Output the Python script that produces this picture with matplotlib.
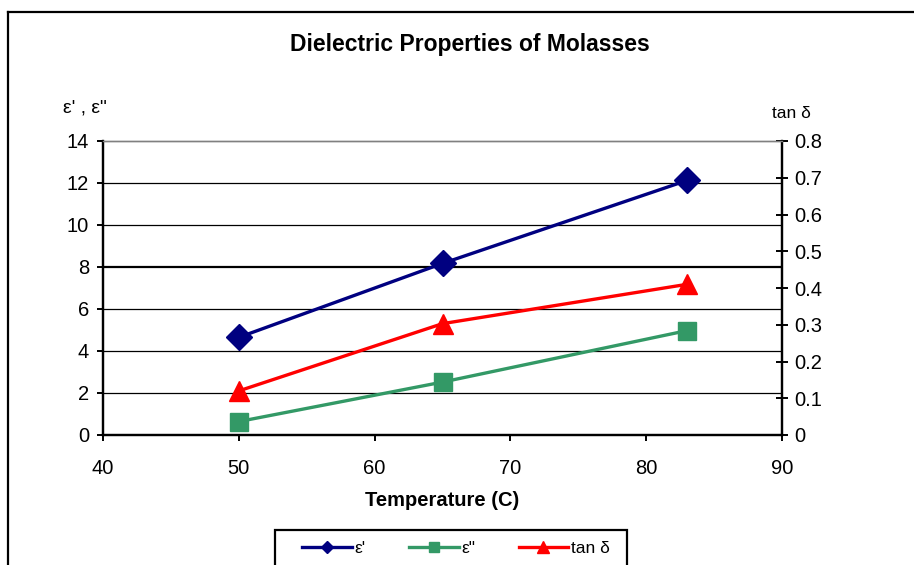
import matplotlib
matplotlib.use("Agg")
import matplotlib.pyplot as plt
from matplotlib.patches import Rectangle
from matplotlib.lines import Line2D

plt.rcParams['font.family'] = ['Liberation Sans', 'DejaVu Sans']

temperature = [50, 65, 83]
eps_real = [4.65, 8.17, 12.12]
eps_imag = [0.64, 2.52, 4.97]
tan_delta = [0.12, 0.303, 0.41]

x_ticks = [40, 50, 60, 70, 80, 90]
left_ticks = [0, 2, 4, 6, 8, 10, 12, 14]
right_ticks = [0, 0.1, 0.2, 0.3, 0.4, 0.5, 0.6, 0.7, 0.8]

title = "Dielectric Properties of Molasses"
xlabel = "Temperature (C)"
left_label = "ε' , ε\""
right_label = "tan δ"
series_names = ["ε'", "ε\"", "tan δ"]

NAVY = "#000080"
GREEN = "#339966"
RED = "#FF0000"
FS = 14.5

fig = plt.figure(figsize=(9.14, 5.65), dpi=100)
W, H = 914, 565

# figure border (cropped at right and bottom)
fig.add_artist(Line2D([8 / W, 1.0], [1 - 12 / H, 1 - 12 / H], transform=fig.transFigure,
                      color="black", lw=1.6))
fig.add_artist(Line2D([8 / W, 8 / W], [1 - 12 / H, 0.0], transform=fig.transFigure,
                      color="black", lw=1.6))

ax = fig.add_axes([103 / W, 1 - 435 / H, (782 - 103) / W, (435 - 141) / H])
ax2 = ax.twinx()

ax.set_xlim(40, 90)
ax.set_ylim(0, 14)
ax2.set_ylim(0, 0.8)
ax.set_xticks(x_ticks)
ax.set_yticks(left_ticks)
ax2.set_yticks(right_ticks)
ax.set_xticklabels([str(v) for v in x_ticks], fontsize=FS)
ax.set_yticklabels([str(v) for v in left_ticks], fontsize=FS)
ax2.set_yticklabels(["0" if v == 0 else f"{v:.1f}" for v in right_ticks], fontsize=FS)

# grid
for v in left_ticks[1:-1]:
    ax.axhline(v, color="black", lw=1.6 if v == 8 else 0.9, zorder=0.5)

for a in (ax, ax2):
    a.spines['top'].set_color("#808080")
    a.spines['top'].set_linewidth(1.0)
    a.spines['left'].set_linewidth(1.6)
    a.spines['bottom'].set_linewidth(1.6)
    a.spines['right'].set_linewidth(1.6)

ax.tick_params(axis='x', direction='out', length=4, width=1.4, pad=13)
ax.tick_params(axis='y', direction='out', length=4, width=1.4, pad=6)
ax2.tick_params(axis='y', direction='inout', length=8, width=1.4, pad=5)

ax.plot(temperature, eps_real, color=NAVY, lw=2.4, marker='D', ms=13, zorder=3)
ax.plot(temperature, eps_imag, color=GREEN, lw=2.4, marker='s', ms=12.5, zorder=3)
ax2.plot(temperature, tan_delta, color=RED, lw=2.4, marker='^', ms=15, zorder=3)

fig.text(470 / W, 1 - 44 / H, title, ha='center', va='center', fontsize=16.5, fontweight='bold')
fig.text(442 / W, 1 - 500 / H, xlabel, ha='center', va='center', fontsize=14.5, fontweight='bold')
fig.text(85 / W, 1 - 108 / H, left_label, ha='center', va='center', fontsize=14)
fig.text(791 / W, 1 - 113 / H, right_label, ha='center', va='center', fontsize=12.5)

# legend
fig.add_artist(Rectangle((275 / W, -0.05), (627 - 275) / W, 0.05 + (565 - 530) / H,
                         transform=fig.transFigure, fill=False, edgecolor="black", lw=1.6))
handles = [
    Line2D([], [], color=NAVY, lw=2.4, marker='D', ms=6),
    Line2D([], [], color=GREEN, lw=2.4, marker='s', ms=7),
    Line2D([], [], color=RED, lw=2.4, marker='^', ms=8),
]
fig.legend(handles, series_names, loc='center', bbox_to_anchor=(456 / W, 1 - 548 / H),
           ncol=3, frameon=False, fontsize=12.5, handlelength=2.85, handletextpad=0.15,
           columnspacing=2.5, borderpad=0)

fig.savefig("out.png", dpi=100)
